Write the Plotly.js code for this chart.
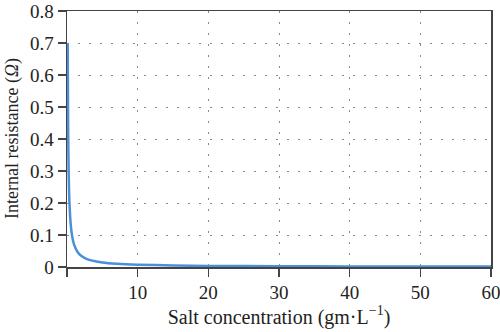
<!DOCTYPE html>
<html>
<head>
<meta charset="utf-8">
<script src="https://cdn.plot.ly/plotly-3.0.1.min.js"></script>
<style>html,body{margin:0;padding:0;background:#fff;}#chart{width:500px;height:332px;}</style>
</head>
<body>
<div id="chart"></div>
<script>
// Salt concentration (gm·L^-1)
const saltConc = [0.1, 0.15, 0.2, 0.3, 0.5, 0.7, 1, 1.5, 2, 3, 4, 5, 7, 10, 15, 20, 30, 40, 50, 60];
// Internal resistance (Ω)
const resistance = [0.70, 0.47, 0.35, 0.23, 0.14, 0.10, 0.07, 0.047, 0.035, 0.023, 0.018, 0.014, 0.010, 0.007, 0.005, 0.0035, 0.0023, 0.0018, 0.0014, 0.0012];
const xTicks = [0, 10, 20, 30, 40, 50, 60];
const xTickText = ['', '10', '20', '30', '40', '50', '60'];
const yTicks = [0, 0.1, 0.2, 0.3, 0.4, 0.5, 0.6, 0.7, 0.8];
const yTickText = ['0', '0.1', '0.2', '0.3', '0.4', '0.5', '0.6', '0.7', '0.8'];

const font = "Liberation Serif";

Plotly.newPlot('chart', [{
  x: saltConc, y: resistance, type: 'scatter', mode: 'lines',
  line: {color: '#4a90d9', width: 2.5, shape: 'spline', smoothing: 0.6},
  hoverinfo: 'skip'
}], {
  width: 500, height: 332,
  margin: {l: 67, r: 9, t: 11, b: 65},
  paper_bgcolor: '#fff', plot_bgcolor: '#fff',
  showlegend: false,
  font: {family: font, color: '#222', size: 19},
  xaxis: {
    range: [0, 60], tickvals: xTicks, ticktext: xTickText,
    ticks: 'outside', ticklen: 8, tickwidth: 1.2, tickcolor: '#444',
    ticklabeloverflow: 'allow',
    showline: true, linecolor: '#444', linewidth: 1.5, mirror: true,
    showgrid: true, gridcolor: '#888', gridwidth: 1, griddash: '1.5px,9.5px',
    zeroline: false,
    title: {text: 'Salt concentration (gm·L<sup>−1</sup>)', font: {family: font, size: 20, color: '#222'}, standoff: 4}
  },
  yaxis: {
    range: [0, 0.8], tickvals: yTicks, ticktext: yTickText,
    ticks: 'outside', ticklen: 8, tickwidth: 1.2, tickcolor: '#444',
    showline: true, linecolor: '#444', linewidth: 1.5, mirror: true,
    showgrid: true, gridcolor: '#888', gridwidth: 1, griddash: '1.5px,9.5px',
    zeroline: false
  },
  annotations: [{
    text: 'Internal resistance (<i>Ω</i>)', textangle: -90,
    xref: 'paper', yref: 'paper', x: 0, y: 0.5, xanchor: 'center', yanchor: 'middle',
    xshift: -55, showarrow: false,
    font: {family: font, size: 18, color: '#222'}
  }]
}, {displayModeBar: false, staticPlot: true});
</script>
</body>
</html>
